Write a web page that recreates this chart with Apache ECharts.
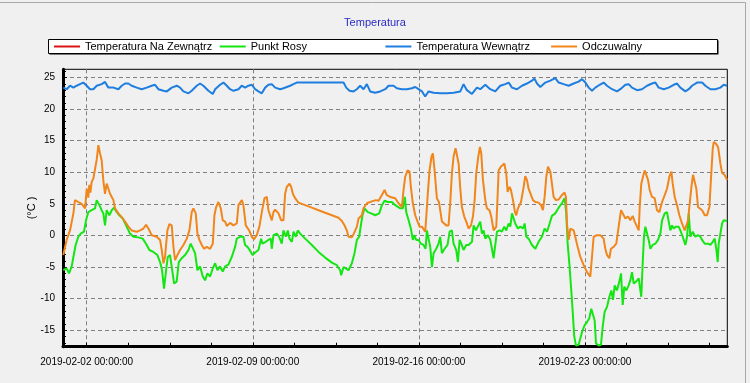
<!DOCTYPE html>
<html><head><meta charset="utf-8">
<script src="https://cdn.jsdelivr.net/npm/echarts@6/dist/echarts.min.js"></script>
<style>html,body{margin:0;padding:0;background:#f0f0f0}#c{width:750px;height:383px}</style>
</head><body><div id="c"></div>
<script>
// hours since 2019-02-01 00:00, value in °C
const seriesNames = ['Temperatura Na Zewnątrz', 'Punkt Rosy', 'Temperatura Wewnątrz', 'Odczuwalny'];
const seriesColors = ['#dc1414', '#14e614', '#1e7ee0', '#f0861c'];
const xTickHours = [24, 192, 360, 528];
const xTickLabels = ['2019-02-02 00:00:00', '2019-02-09 00:00:00', '2019-02-16 00:00:00', '2019-02-23 00:00:00'];
const yTickValues = [-15, -10, -5, 0, 5, 10, 15, 20, 25];

const outsideTemp = [];

const dewPoint = [[0.3,-5.5],[3.7,-5.2],[6.1,-6.0],[8.8,-4.9],[10.5,-3.4],[12.8,-1.5],[15.5,-0.2],[17.9,0.3],[21.2,0.6],[23.3,2.4],[25.6,3.7],[29.0,4.0],[32.4,4.3],[34.1,5.6],[36.8,4.8],[39.1,4.0],[40.8,3.5],[42.5,1.6],[44.2,4.0],[46.9,3.2],[49.3,4.0],[51.6,4.4],[54.3,3.7],[57.0,3.2],[60.4,2.7],[64.4,1.4],[67.8,0.3],[71.2,-0.2],[76.2,-0.3],[80.6,-0.5],[84.0,-1.3],[87.4,-2.3],[91.4,-2.6],[95.5,-3.1],[98.2,-4.2],[100.2,-5.5],[102.2,-8.4],[104.3,-5.5],[106.0,-3.4],[108.3,-3.1],[110.3,-3.4],[112.4,-7.6],[115.0,-7.3],[117.1,-4.2],[120.1,-3.6],[123.5,-3.1],[126.9,-2.3],[129.2,-1.3],[131.2,-1.5],[133.6,-2.8],[136.0,-5.5],[138.7,-4.9],[141.4,-6.5],[143.7,-7.1],[146.1,-6.0],[148.8,-6.5],[151.5,-5.2],[153.9,-4.4],[156.2,-5.5],[158.9,-4.9],[161.6,-5.7],[164.0,-4.9],[167.3,-4.6],[170.7,-3.4],[174.1,-1.8],[175.8,-0.5],[179.2,-0.2],[182.5,-0.2],[184.2,-1.5],[186.6,-1.8],[189.3,-2.4],[191.7,-3.1],[194.4,-2.7],[197.7,-2.3],[200.4,-0.5],[201.8,-1.3],[205.1,-1.0],[207.8,-0.7],[210.2,-0.5],[211.2,-2.1],[212.9,0.05],[216.3,0.3],[218.6,-0.2],[221.3,-1.3],[223.0,0.8],[225.4,-0.2],[227.4,0.8],[229.1,-0.5],[231.5,-1.0],[233.2,0.6],[235.5,-0.2],[237.5,0.8],[239.9,0.3],[245.0,-0.5],[251.7,-1.5],[258.5,-2.6],[265.2,-3.5],[272.0,-4.3],[277.0,-4.7],[280.4,-5.5],[281.4,-6.3],[283.8,-5.0],[286.1,-5.2],[288.8,-5.5],[292.2,-4.4],[294.9,-2.8],[297.3,-0.7],[299.6,-0.2],[301.6,1.9],[303.0,3.2],[305.0,4.3],[308.4,3.7],[311.8,3.5],[315.8,3.2],[319.9,3.5],[322.6,4.8],[325.3,5.5],[328.6,5.3],[332.7,5.3],[336.1,4.8],[341.1,4.3],[343.8,4.3],[345.8,6.1],[347.2,3.7],[349.6,2.4],[351.9,1.1],[353.9,-0.7],[355.3,0.05],[357.3,-0.7],[359.7,-0.7],[362.0,-1.3],[364.7,-1.5],[366.8,-2.1],[368.1,0.8],[369.8,0.8],[371.5,-1.8],[373.2,-5.0],[374.9,-2.8],[377.6,-2.1],[379.9,-1.3],[381.6,-0.2],[383.3,-2.8],[386.0,-2.1],[389.0,-1.5],[391.1,0.6],[393.4,0.8],[395.1,-1.3],[397.8,-2.3],[399.5,-4.2],[401.2,-0.7],[402.9,-1.3],[405.2,-2.3],[407.9,-1.5],[410.3,-1.5],[413.7,-1.0],[415.4,1.6],[417.7,0.8],[419.7,0.8],[422.1,2.2],[423.8,0.3],[425.5,0.8],[427.2,-0.5],[429.9,0.05],[432.2,-0.7],[433.9,-2.1],[435.6,-3.6],[437.3,-1.5],[439.0,0.6],[441.7,0.8],[444.0,0.6],[446.4,1.4],[448.4,0.8],[450.8,1.9],[452.5,1.4],[454.2,3.5],[455.8,3.2],[457.5,1.9],[460.2,1.1],[462.6,1.4],[465.3,1.1],[467.0,1.9],[468.7,-0.2],[471.0,-0.5],[474.4,-1.5],[477.8,-2.1],[481.1,-1.0],[484.5,-0.2],[487.2,1.1],[489.6,0.6],[492.3,1.9],[494.6,3.1],[498.0,3.5],[501.4,4.4],[504.7,5.1],[507.4,5.9],[509.1,3.5],[510.5,-1.3],[512.2,-4.4],[513.9,-8.1],[515.5,-11.8],[517.2,-16.0],[518.9,-17.4],[521.6,-17.3],[523.3,-16.3],[525.0,-15.3],[527.7,-14.2],[530.1,-13.7],[532.4,-13.1],[534.4,-11.6],[536.1,-11.9],[537.8,-13.4],[539.2,-17.1],[541.9,-17.4],[544.2,-17.3],[545.9,-14.5],[547.9,-12.1],[550.3,-11.3],[552.7,-9.7],[554.7,-8.7],[556.4,-10.2],[558.1,-7.9],[560.4,-8.7],[562.8,-7.3],[564.5,-6.0],[566.2,-11.0],[567.8,-8.1],[569.9,-8.7],[572.2,-7.9],[573.9,-7.1],[575.6,-5.8],[577.3,-7.6],[579.7,-7.3],[582.4,-6.8],[584.0,-7.1],[585.0,-9.7],[586.4,-4.4],[587.7,-0.2],[589.1,1.4],[590.8,1.4],[592.5,-0.7],[594.2,-2.1],[596.5,-1.5],[599.2,-1.3],[601.9,-0.7],[604.3,0.3],[606.0,2.4],[608.7,3.5],[611.0,3.7],[612.7,3.7],[614.4,0.8],[616.1,1.6],[617.8,1.1],[620.1,1.4],[622.8,1.4],[624.5,0.8],[626.9,-0.2],[629.6,-1.5],[631.3,-0.2],[633.0,3.5],[634.6,-0.2],[637.0,0.6],[639.7,-0.2],[642.4,0.05],[644.8,-0.2],[646.5,-0.7],[649.2,-1.3],[652.5,-1.3],[654.9,-1.5],[657.3,-1.0],[659.3,-0.5],[661.0,-2.3],[662.3,-4.2],[663.3,-1.3],[665.0,0.3],[666.7,1.9],[668.4,2.4],[671.8,2.3]];

const insideTemp = [[0.3,23.4],[3.7,23.15],[7.1,23.7],[10.5,23.4],[13.8,23.7],[17.2,23.95],[20.6,24.2],[24.0,23.7],[27.3,23.15],[30.7,23.15],[34.1,23.7],[39.1,23.95],[42.5,24.3],[45.9,23.4],[51.0,23.4],[56.0,23.15],[59.4,23.7],[62.8,24.05],[66.1,24.05],[69.5,23.7],[74.6,23.4],[79.6,23.15],[84.7,23.4],[89.7,23.7],[93.1,23.85],[96.5,23.15],[101.6,22.9],[105.0,22.8],[110.0,23.4],[115.1,23.7],[118.4,23.4],[121.8,22.8],[126.9,22.5],[130.2,22.9],[135.3,23.7],[138.7,24.05],[142.0,23.7],[147.1,22.9],[151.5,22.4],[153.9,23.15],[158.9,23.85],[162.3,24.2],[165.7,23.7],[169.0,23.15],[172.4,22.9],[177.5,23.15],[180.8,23.7],[184.2,23.4],[187.6,23.7],[191.0,23.85],[194.3,23.15],[197.7,22.8],[201.1,22.5],[204.5,23.4],[207.8,23.85],[211.2,23.95],[214.6,23.4],[219.6,23.15],[223.0,23.3],[226.4,23.5],[229.8,23.7],[233.1,23.95],[236.5,24.2],[283.8,24.2],[286.5,23.4],[289.8,22.9],[293.9,22.8],[297.2,23.15],[300.6,23.7],[304.0,23.15],[307.4,23.95],[310.7,22.8],[315.8,22.6],[320.9,22.8],[326.0,23.15],[329.3,23.7],[331.0,23.95],[334.4,23.7],[337.7,23.3],[342.8,23.15],[347.9,23.15],[352.9,23.3],[356.3,23.5],[359.7,23.15],[363.1,22.8],[366.4,22.0],[369.8,22.8],[374.9,22.6],[381.6,22.5],[388.4,22.5],[395.1,22.6],[401.9,22.8],[405.2,23.95],[408.6,23.0],[413.7,22.4],[418.7,23.4],[422.1,23.15],[427.2,23.85],[432.2,23.15],[437.3,22.8],[442.3,23.7],[447.4,23.95],[450.8,24.2],[454.2,23.4],[459.2,23.15],[464.3,23.7],[469.3,24.05],[474.4,24.5],[476.8,24.85],[479.5,24.05],[482.8,23.5],[487.9,24.2],[493.0,24.5],[498.0,24.9],[501.4,24.2],[506.4,23.95],[511.5,23.7],[516.6,24.05],[521.6,24.35],[525.0,24.75],[528.4,24.2],[531.8,23.4],[535.1,22.9],[538.5,23.4],[542.9,23.85],[546.9,24.2],[550.3,23.7],[555.4,23.15],[560.4,22.8],[563.8,23.15],[568.9,23.85],[572.2,23.95],[575.6,23.4],[580.7,23.0],[585.7,23.15],[590.8,23.7],[595.9,24.05],[599.2,24.2],[602.6,23.4],[607.7,23.15],[612.7,23.4],[617.8,23.85],[621.2,24.05],[624.5,23.4],[629.6,22.8],[633.0,23.15],[636.3,23.7],[641.4,24.2],[646.5,24.2],[649.8,23.7],[654.9,23.15],[660.0,23.15],[665.0,23.4],[668.4,23.85],[671.8,23.7]];

const feelsLike = [[0.3,-3.1],[3.7,-0.7],[7.1,0.8],[10.5,3.5],[12.1,5.6],[15.5,5.3],[18.9,5.0],[22.3,4.3],[24.0,7.4],[25.6,6.0],[26.6,8.0],[27.7,6.8],[29.0,8.5],[30.7,9.0],[32.4,9.3],[34.1,12.0],[35.8,14.3],[37.4,13.0],[39.1,11.9],[40.8,8.7],[42.5,6.6],[44.2,8.2],[45.9,7.4],[47.6,6.6],[51.0,5.6],[52.6,4.3],[56.0,3.5],[59.4,2.9],[62.8,2.2],[66.1,1.4],[69.5,0.8],[74.6,0.6],[78.0,0.8],[81.3,1.1],[84.0,1.7],[86.4,1.1],[89.7,0.05],[94.8,-0.2],[98.2,-0.7],[99.9,-2.3],[101.6,-4.4],[103.2,-3.4],[105.6,0.8],[107.6,1.8],[110.0,1.6],[111.7,-1.8],[113.4,-3.9],[115.7,-3.1],[118.4,-2.3],[121.8,-1.5],[125.2,-0.5],[127.9,0.8],[130.2,3.7],[131.9,4.3],[134.3,3.5],[136.0,0.3],[138.0,-0.7],[140.4,-1.5],[142.7,-2.1],[145.4,-1.8],[148.8,-2.1],[151.5,-1.3],[153.2,3.2],[154.9,4.5],[157.2,5.3],[159.6,4.3],[161.6,2.4],[164.0,2.2],[165.7,1.5],[169.0,2.0],[172.4,1.6],[175.8,1.9],[177.5,4.8],[180.9,5.6],[182.5,4.8],[184.9,1.6],[188.3,0.8],[191.0,-0.2],[193.3,-0.6],[196.0,0.05],[198.7,1.4],[201.1,3.7],[203.8,5.9],[206.2,6.1],[207.8,4.0],[209.5,3.7],[211.2,2.4],[212.9,3.7],[214.6,4.1],[218.0,3.5],[220.7,2.4],[223.0,2.4],[224.7,6.6],[226.4,7.7],[229.1,8.2],[230.8,7.7],[232.5,6.6],[234.8,5.9],[238.2,5.2],[245.0,4.8],[251.7,4.4],[258.5,4.0],[265.2,3.6],[272.0,3.2],[278.7,2.8],[282.1,2.3],[284.8,1.6],[287.1,0.8],[288.8,-0.2],[292.2,-0.3],[294.2,0.3],[297.3,1.4],[299.0,2.7],[302.3,3.2],[304.0,4.3],[307.4,5.1],[312.4,5.4],[316.5,5.6],[319.2,5.5],[322.6,6.4],[325.3,7.2],[327.6,6.4],[331.0,6.1],[336.1,5.9],[339.4,5.1],[342.8,4.5],[344.5,7.2],[346.2,9.3],[348.5,10.3],[350.6,10.1],[351.9,7.7],[353.9,5.1],[356.3,3.2],[358.7,2.2],[360.7,1.4],[363.1,1.4],[364.7,1.1],[366.4,0.6],[367.4,2.7],[368.8,6.1],[370.8,10.3],[372.8,12.5],[374.2,13.0],[375.9,10.3],[378.2,5.9],[380.3,5.3],[381.6,4.0],[383.3,2.2],[385.0,1.9],[387.7,1.6],[390.0,1.6],[391.7,5.1],[393.4,9.8],[395.1,12.5],[397.1,13.8],[398.5,13.5],[400.2,11.4],[401.9,7.4],[403.5,4.5],[405.9,3.0],[408.6,1.9],[410.3,1.1],[412.7,1.6],[414.7,3.0],[416.4,5.6],[418.0,9.8],[420.1,12.5],[421.8,14.0],[423.1,13.0],[424.8,8.8],[427.2,5.6],[428.8,4.3],[431.5,4.0],[433.2,3.0],[435.6,0.8],[438.3,1.4],[439.6,6.1],[440.7,10.3],[443.0,10.9],[445.0,11.1],[446.4,11.4],[448.4,9.8],[449.8,6.9],[451.8,7.7],[453.1,7.2],[455.2,5.6],[457.2,3.7],[458.5,3.2],[460.2,4.3],[463.3,5.3],[466.0,7.7],[467.6,9.4],[469.3,8.8],[471.0,7.4],[472.7,7.2],[475.4,5.6],[477.8,5.3],[481.1,5.2],[483.5,4.8],[485.5,4.0],[487.2,6.1],[488.9,9.3],[490.6,10.9],[493.0,10.1],[494.6,8.2],[496.3,6.1],[498.7,5.6],[501.4,5.7],[504.7,6.4],[507.4,6.8],[508.8,6.1],[509.8,1.9],[511.5,-0.7],[513.2,1.1],[514.9,0.8],[516.6,0.8],[518.2,-0.2],[520.6,-1.8],[523.3,-3.4],[526.7,-4.7],[530.1,-5.8],[533.4,-6.5],[535.1,-3.4],[536.8,-0.2],[540.2,0.05],[543.5,0.05],[546.9,-0.5],[548.6,-2.1],[550.3,-3.1],[552.7,-3.6],[554.3,-2.1],[557.0,-1.8],[559.7,-1.3],[562.1,1.4],[564.5,4.0],[566.5,4.3],[568.9,2.7],[571.6,3.0],[573.9,2.4],[576.3,3.1],[578.3,2.2],[580.7,1.4],[582.4,0.8],[583.4,4.5],[585.0,8.2],[586.7,9.3],[588.4,10.3],[590.1,10.4],[591.8,8.8],[593.5,7.2],[595.8,6.1],[598.5,5.9],[600.9,4.0],[603.3,3.7],[606.0,5.3],[608.7,6.4],[611.0,7.4],[613.4,9.3],[615.4,10.1],[616.8,8.2],[618.8,6.1],[621.2,4.8],[623.5,3.2],[626.2,1.9],[628.9,0.8],[630.3,0.6],[632.3,2.4],[633.6,4.5],[635.7,7.7],[637.3,9.6],[639.0,9.8],[640.7,7.4],[642.4,4.5],[644.1,4.8],[646.5,4.0],[649.2,3.2],[651.5,3.2],[653.9,4.5],[655.6,9.3],[657.3,13.8],[658.3,14.8],[660.6,14.5],[662.7,14.0],[665.0,11.4],[666.7,9.9],[669.1,9.6],[671.8,8.8]];

const X_MIN = 0, X_MAX = 672, Y_MIN = -17.6, Y_MAX = 26.3;
const FONT = 'Liberation Sans, Arial, sans-serif';
const allData = [outsideTemp, dewPoint, insideTemp, feelsLike];

// minor tick positions: quarter-week steps from the first major tick, whole degrees on y
const xMinorHours = [];
for (let h = xTickHours[0]; h <= X_MAX; h += 42) xMinorHours.push(h);
const yMinorValues = [];
for (let v = Math.ceil(Y_MIN); v <= Y_MAX; v += 1) yMinorValues.push(v);

const chart = echarts.init(document.getElementById('c'), null, {renderer: 'canvas'});
const gridLine = {show: true, lineStyle: {color: '#808080', width: 1, type: [4, 3]}};
const blackLine = {show: true, onZero: false, lineStyle: {color: '#000', width: 3}};

chart.setOption({
  backgroundColor: '#f0f0f0',
  animation: false,
  title: {
    text: 'Temperatura', left: 'center', top: 17, padding: 0,
    textStyle: {fontSize: 11, fontWeight: 'normal', color: '#2a2ac8', fontFamily: FONT}
  },
  graphic: [
    {type: 'rect', z: 0, silent: true, shape: {x: -2, y: 2.5, width: 747.5, height: 384}, style: {fill: 'none', stroke: '#a8a8a8', lineWidth: 1}},
    {type: 'rect', z: 0, shape: {x: 49.5, y: 40.5, width: 669, height: 14}, style: {fill: '#000'}},
    {type: 'rect', z: 1, shape: {x: 48.5, y: 39.5, width: 669, height: 14}, style: {fill: '#fff', stroke: '#000', lineWidth: 1}}
  ],
  legend: {
    left: 54, top: 39.5, padding: 0, itemGap: 0, itemWidth: 26, itemHeight: 2, icon: 'rect',
    selectedMode: false, z: 5,
    textStyle: {fontSize: 11, color: '#000', fontFamily: FONT, width: 134.7, lineHeight: 14, overflow: 'truncate'},
    data: seriesNames
  },
  grid: {left: 63, right: 22.7, top: 69.3, bottom: 36.3, show: true, borderColor: '#000', borderWidth: 1,
         backgroundColor: 'transparent', containLabel: false, outerBoundsMode: 'none'},
  xAxis: [{
    type: 'value', min: X_MIN, max: X_MAX,
    axisLine: blackLine,
    axisTick: {show: true, inside: true, length: 4, lineStyle: {color: '#000'}, customValues: xTickHours},
    splitLine: gridLine,
    axisLabel: {
      margin: 11, color: '#000', fontSize: 10, fontFamily: FONT, hideOverlap: false,
      customValues: xTickHours,
      formatter: v => { const i = xTickHours.indexOf(Math.round(v)); return i >= 0 ? xTickLabels[i] : ''; }
    }
  }, {
    type: 'value', min: X_MIN, max: X_MAX, position: 'bottom',
    axisLine: {show: false, onZero: false},
    axisTick: {show: true, inside: true, length: 4, lineStyle: {color: '#000'}, customValues: xMinorHours},
    splitLine: {show: false},
    axisLabel: {show: false}
  }],
  yAxis: [{
    type: 'value', min: Y_MIN, max: Y_MAX,
    name: '(°C )', nameLocation: 'middle', nameGap: 26, nameRotate: 90, nameMoveOverlap: false,
    nameTextStyle: {fontSize: 11, color: '#000', fontFamily: FONT},
    axisLine: blackLine,
    axisTick: {show: true, inside: true, length: 4, lineStyle: {color: '#000'}, customValues: yTickValues},
    splitLine: gridLine,
    axisLabel: {
      margin: 8, color: '#000', fontSize: 10, fontFamily: FONT, hideOverlap: false,
      customValues: yTickValues,
      formatter: v => String(Math.round(v))
    }
  }, {
    type: 'value', min: Y_MIN, max: Y_MAX, position: 'left',
    axisLine: {show: false, onZero: false},
    axisTick: {show: true, inside: true, length: 3, lineStyle: {color: '#000'}, customValues: yMinorValues},
    splitLine: {show: false},
    axisLabel: {show: false}
  }],
  series: seriesNames.map((name, i) => ({
    name, type: 'line', data: allData[i], showSymbol: false, symbol: 'none',
    xAxisIndex: 0, yAxisIndex: 0,
    clip: true, z: 2 + i,
    color: seriesColors[i],
    lineStyle: {color: seriesColors[i], width: 2},
    itemStyle: {color: seriesColors[i]}
  }))
});
</script></body></html>
